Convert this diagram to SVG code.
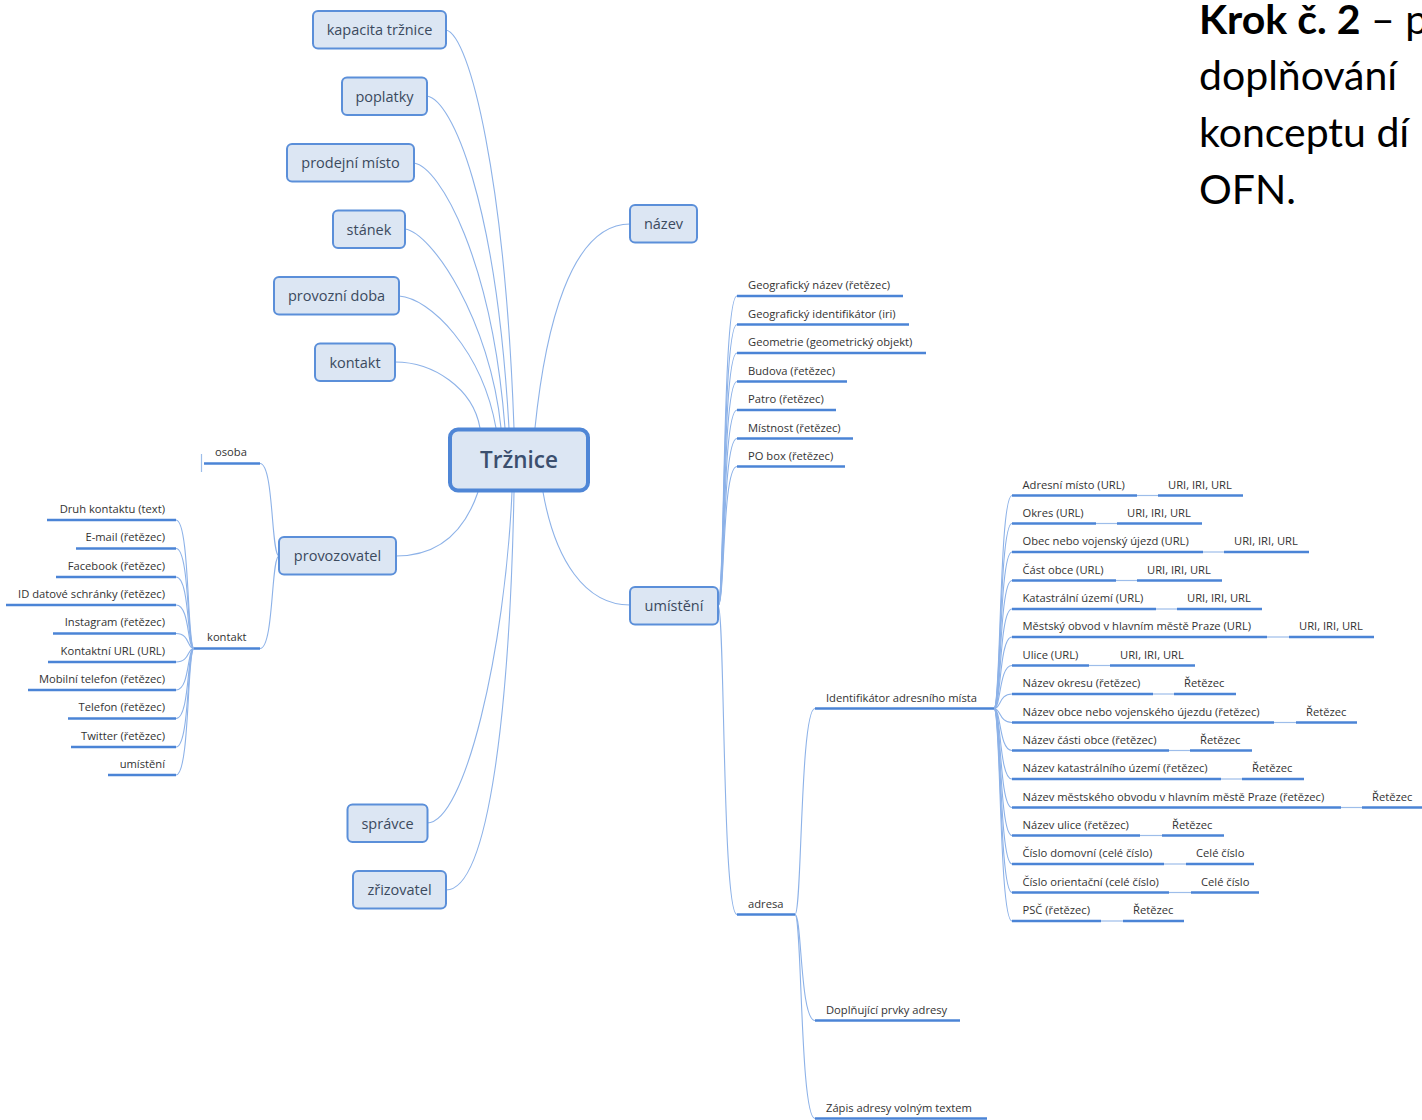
<svg xmlns="http://www.w3.org/2000/svg" width="1422" height="1120" viewBox="0 0 1422 1120">
<style>
.box{fill:#dce6f3;stroke:#5b8fd9;stroke-width:2}
.root{fill:#dce6f3;stroke:#4f86d6;stroke-width:4}
.nt{font-family:"Open Sans",sans-serif;font-size:14.5px;fill:#3b4a5e;text-anchor:middle}
.rt{font-family:"Open Sans",sans-serif;font-size:22.5px;font-weight:600;fill:#3b4f6e;text-anchor:middle}
.con{fill:none;stroke:#8db2e8;stroke-width:1.1}
.ul{stroke:#4b84d6;stroke-width:2.6}
.lk{stroke:#9dbdea;stroke-width:1.2}
.lt{font-family:"Open Sans",sans-serif;font-size:11.2px;fill:#333}
.le{font-family:"Open Sans",sans-serif;font-size:11.2px;fill:#333;text-anchor:end}
.title{font-family:Lato,"Open Sans",sans-serif;font-size:41px;fill:#000}
</style>

<g id="title">
<text class="title" x="1199" y="34"><tspan font-weight="bold">Krok č. 2</tspan> – p</text>
<text class="title" x="1199" y="90">doplňování</text>
<text class="title" x="1199" y="147">konceptu dí</text>
<text class="title" x="1199" y="204">OFN.</text>
</g>

<g id="connectors">
<path class="con" d="M446 30 C470 35,505 180,514 428"/>
<path class="con" d="M427 96 C452 100,496 200,509 428"/>
<path class="con" d="M414 163 C440 167,492 260,505 428"/>
<path class="con" d="M405 229 C432 233,490 320,501 428"/>
<path class="con" d="M399 296 C430 298,482 350,496 428"/>
<path class="con" d="M395 362 C433 362,473 388,480 428"/>
<path class="con" d="M535 428 C545 330,570 224,630 224"/>
<path class="con" d="M478 492 C465 530,440 556,396 556"/>
<path class="con" d="M543 492 C555 560,585 605,630 605"/>
<path class="con" d="M512 492 C505 650,465 823,427 823"/>
<path class="con" d="M514 492 C510 700,490 890,446 890"/>
<path class="con" d="M279 556 C271 556,274 463.5,260 463.5"/>
<path class="con" d="M279 556 C271 556,274 648.5,260 648.5"/>
<line class="lk" x1="201.5" y1="454" x2="201.5" y2="472"/>
<path class="con" d="M194 648.5 C187 648.5,190 520,176 520"/>
<path class="con" d="M194 648.5 C187 648.5,190 548.5,176 548.5"/>
<path class="con" d="M194 648.5 C187 648.5,190 577,176 577"/>
<path class="con" d="M194 648.5 C187 648.5,190 605,176 605"/>
<path class="con" d="M194 648.5 C187 648.5,190 633.5,176 633.5"/>
<path class="con" d="M194 648.5 C187 648.5,190 662,176 662"/>
<path class="con" d="M194 648.5 C187 648.5,190 690,176 690"/>
<path class="con" d="M194 648.5 C187 648.5,190 718.5,176 718.5"/>
<path class="con" d="M194 648.5 C187 648.5,190 747,176 747"/>
<path class="con" d="M194 648.5 C187 648.5,190 775,176 775"/>
<path class="con" d="M718 605.5 C725 605.5,722 296,737 296"/>
<path class="con" d="M718 605.5 C725 605.5,722 324.5,737 324.5"/>
<path class="con" d="M718 605.5 C725 605.5,722 353,737 353"/>
<path class="con" d="M718 605.5 C725 605.5,722 381.5,737 381.5"/>
<path class="con" d="M718 605.5 C725 605.5,722 410,737 410"/>
<path class="con" d="M718 605.5 C725 605.5,722 438.5,737 438.5"/>
<path class="con" d="M718 605.5 C725 605.5,722 466.5,737 466.5"/>
<path class="con" d="M718 605.5 C725 605.5,722 914.5,737 914.5"/>
<path class="con" d="M795 914.5 C802 914.5,800 708.5,815 708.5"/>
<path class="con" d="M795 914.5 C802 914.5,800 1020.5,815 1020.5"/>
<path class="con" d="M795 914.5 C802 914.5,800 1118.5,815 1118.5"/>
<path class="con" d="M994 708.5 C1001 708.5,999 495.5,1012 495.5"/>
<path class="con" d="M994 708.5 C1001 708.5,999 523.5,1012 523.5"/>
<path class="con" d="M994 708.5 C1001 708.5,999 552,1012 552"/>
<path class="con" d="M994 708.5 C1001 708.5,999 580.5,1012 580.5"/>
<path class="con" d="M994 708.5 C1001 708.5,999 609,1012 609"/>
<path class="con" d="M994 708.5 C1001 708.5,999 637,1012 637"/>
<path class="con" d="M994 708.5 C1001 708.5,999 665.5,1012 665.5"/>
<path class="con" d="M994 708.5 C1001 708.5,999 694,1012 694"/>
<path class="con" d="M994 708.5 C1001 708.5,999 722.5,1012 722.5"/>
<path class="con" d="M994 708.5 C1001 708.5,999 750.5,1012 750.5"/>
<path class="con" d="M994 708.5 C1001 708.5,999 779,1012 779"/>
<path class="con" d="M994 708.5 C1001 708.5,999 807.5,1012 807.5"/>
<path class="con" d="M994 708.5 C1001 708.5,999 835.5,1012 835.5"/>
<path class="con" d="M994 708.5 C1001 708.5,999 864,1012 864"/>
<path class="con" d="M994 708.5 C1001 708.5,999 892.5,1012 892.5"/>
<path class="con" d="M994 708.5 C1001 708.5,999 921,1012 921"/>
<line class="lk" x1="1137" y1="495.5" x2="1158" y2="495.5"/>
<line class="lk" x1="1096" y1="523.5" x2="1117" y2="523.5"/>
<line class="lk" x1="1203" y1="552" x2="1224" y2="552"/>
<line class="lk" x1="1116" y1="580.5" x2="1137" y2="580.5"/>
<line class="lk" x1="1156" y1="609" x2="1177" y2="609"/>
<line class="lk" x1="1267" y1="637" x2="1289" y2="637"/>
<line class="lk" x1="1089" y1="665.5" x2="1110" y2="665.5"/>
<line class="lk" x1="1153" y1="694" x2="1174" y2="694"/>
<line class="lk" x1="1274" y1="722.5" x2="1296" y2="722.5"/>
<line class="lk" x1="1169" y1="750.5" x2="1190" y2="750.5"/>
<line class="lk" x1="1221" y1="779" x2="1242" y2="779"/>
<line class="lk" x1="1341" y1="807.5" x2="1362" y2="807.5"/>
<line class="lk" x1="1140" y1="835.5" x2="1162" y2="835.5"/>
<line class="lk" x1="1164" y1="864" x2="1186" y2="864"/>
<line class="lk" x1="1169" y1="892.5" x2="1191" y2="892.5"/>
<line class="lk" x1="1101" y1="921" x2="1123" y2="921"/>
</g>

<g id="n-trznice"><rect class="root" x="450" y="429.5" width="138" height="61" rx="8"/><text class="rt" x="519" y="468">Tržnice</text></g>
<g id="n-kapacita"><rect class="box" x="313" y="11" width="133" height="37.5" rx="5"/><text class="nt" x="379.5" y="35">kapacita tržnice</text></g>
<g id="n-poplatky"><rect class="box" x="342" y="77.5" width="85" height="37.5" rx="5"/><text class="nt" x="384.5" y="101.5">poplatky</text></g>
<g id="n-prodejni"><rect class="box" x="287" y="144" width="127" height="37.5" rx="5"/><text class="nt" x="350.5" y="168">prodejní místo</text></g>
<g id="n-stanek"><rect class="box" x="333" y="210.5" width="72" height="37.5" rx="5"/><text class="nt" x="369" y="234.5">stánek</text></g>
<g id="n-doba"><rect class="box" x="274" y="277" width="125" height="37.5" rx="5"/><text class="nt" x="336.5" y="301">provozní doba</text></g>
<g id="n-kontakt"><rect class="box" x="315" y="343.5" width="80" height="37.5" rx="5"/><text class="nt" x="355" y="367.5">kontakt</text></g>
<g id="n-provozovatel"><rect class="box" x="279" y="537" width="117" height="37.5" rx="5"/><text class="nt" x="337.5" y="561">provozovatel</text></g>
<g id="n-spravce"><rect class="box" x="347.5" y="804.5" width="80" height="37.5" rx="5"/><text class="nt" x="387.5" y="828.5">správce</text></g>
<g id="n-zrizovatel"><rect class="box" x="353" y="871" width="93" height="37.5" rx="5"/><text class="nt" x="399.5" y="895">zřizovatel</text></g>
<g id="n-nazev"><rect class="box" x="630" y="205" width="67" height="37.5" rx="5"/><text class="nt" x="663.5" y="229">název</text></g>
<g id="n-umisteni"><rect class="box" x="630" y="587" width="88" height="37.5" rx="5"/><text class="nt" x="674" y="611">umístění</text></g>

<g id="n-osoba"><line class="ul" x1="204" y1="463.5" x2="260" y2="463.5"/><text class="lt" x="215" y="456">osoba</text></g>
<g id="n-kontakt2"><line class="ul" x1="194" y1="648.5" x2="260" y2="648.5"/><text class="lt" x="207" y="641">kontakt</text></g>
<g id="n-k1"><line class="ul" x1="47" y1="520" x2="176" y2="520"/><text class="le" x="165" y="512.5">Druh kontaktu (text)</text></g>
<g id="n-k2"><line class="ul" x1="76" y1="548.5" x2="176" y2="548.5"/><text class="le" x="165" y="541">E-mail (řetězec)</text></g>
<g id="n-k3"><line class="ul" x1="56" y1="577" x2="176" y2="577"/><text class="le" x="165" y="569.5">Facebook (řetězec)</text></g>
<g id="n-k4"><line class="ul" x1="6" y1="605" x2="176" y2="605"/><text class="le" x="165" y="597.5">ID datové schránky (řetězec)</text></g>
<g id="n-k5"><line class="ul" x1="53" y1="633.5" x2="176" y2="633.5"/><text class="le" x="165" y="626">Instagram (řetězec)</text></g>
<g id="n-k6"><line class="ul" x1="48" y1="662" x2="176" y2="662"/><text class="le" x="165" y="654.5">Kontaktní URL (URL)</text></g>
<g id="n-k7"><line class="ul" x1="28" y1="690" x2="176" y2="690"/><text class="le" x="165" y="682.5">Mobilní telefon (řetězec)</text></g>
<g id="n-k8"><line class="ul" x1="68" y1="718.5" x2="176" y2="718.5"/><text class="le" x="165" y="711">Telefon (řetězec)</text></g>
<g id="n-k9"><line class="ul" x1="71" y1="747" x2="176" y2="747"/><text class="le" x="165" y="739.5">Twitter (řetězec)</text></g>
<g id="n-k10"><line class="ul" x1="108" y1="775" x2="176" y2="775"/><text class="le" x="165" y="767.5">umístění</text></g>

<g id="n-u1"><line class="ul" x1="737" y1="296" x2="903" y2="296"/><text class="lt" x="748" y="289">Geografický název (řetězec)</text></g>
<g id="n-u2"><line class="ul" x1="737" y1="324.5" x2="909" y2="324.5"/><text class="lt" x="748" y="317.5">Geografický identifikátor (iri)</text></g>
<g id="n-u3"><line class="ul" x1="737" y1="353" x2="926" y2="353"/><text class="lt" x="748" y="346">Geometrie (geometrický objekt)</text></g>
<g id="n-u4"><line class="ul" x1="737" y1="381.5" x2="847" y2="381.5"/><text class="lt" x="748" y="374.5">Budova (řetězec)</text></g>
<g id="n-u5"><line class="ul" x1="737" y1="410" x2="836" y2="410"/><text class="lt" x="748" y="403">Patro (řetězec)</text></g>
<g id="n-u6"><line class="ul" x1="737" y1="438.5" x2="853" y2="438.5"/><text class="lt" x="748" y="431.5">Místnost (řetězec)</text></g>
<g id="n-u7"><line class="ul" x1="737" y1="466.5" x2="845" y2="466.5"/><text class="lt" x="748" y="459.5">PO box (řetězec)</text></g>
<g id="n-adresa"><line class="ul" x1="737" y1="914.5" x2="795" y2="914.5"/><text class="lt" x="748" y="907.5">adresa</text></g>

<g id="n-a1"><line class="ul" x1="815" y1="708.5" x2="994" y2="708.5"/><text class="lt" x="826" y="701.5">Identifikátor adresního místa</text></g>
<g id="n-a2"><line class="ul" x1="815" y1="1020.5" x2="960" y2="1020.5"/><text class="lt" x="826" y="1013.5">Doplňující prvky adresy</text></g>
<g id="n-a3"><line class="ul" x1="815" y1="1118.5" x2="987" y2="1118.5"/><text class="lt" x="826" y="1111.5">Zápis adresy volným textem</text></g>

<g id="n-i1"><line class="ul" x1="1012" y1="495.5" x2="1137" y2="495.5"/><text class="lt" x="1022.5" y="488.5">Adresní místo (URL)</text><line class="ul" x1="1158" y1="495.5" x2="1243" y2="495.5"/><text class="lt" x="1168" y="488.5">URI, IRI, URL</text></g>
<g id="n-i2"><line class="ul" x1="1012" y1="523.5" x2="1096" y2="523.5"/><text class="lt" x="1022.5" y="516.5">Okres (URL)</text><line class="ul" x1="1117" y1="523.5" x2="1202" y2="523.5"/><text class="lt" x="1127" y="516.5">URI, IRI, URL</text></g>
<g id="n-i3"><line class="ul" x1="1012" y1="552" x2="1203" y2="552"/><text class="lt" x="1022.5" y="545">Obec nebo vojenský újezd (URL)</text><line class="ul" x1="1224" y1="552" x2="1309" y2="552"/><text class="lt" x="1234" y="545">URI, IRI, URL</text></g>
<g id="n-i4"><line class="ul" x1="1012" y1="580.5" x2="1116" y2="580.5"/><text class="lt" x="1022.5" y="573.5">Část obce (URL)</text><line class="ul" x1="1137" y1="580.5" x2="1222" y2="580.5"/><text class="lt" x="1147" y="573.5">URI, IRI, URL</text></g>
<g id="n-i5"><line class="ul" x1="1012" y1="609" x2="1156" y2="609"/><text class="lt" x="1022.5" y="602">Katastrální území (URL)</text><line class="ul" x1="1177" y1="609" x2="1262" y2="609"/><text class="lt" x="1187" y="602">URI, IRI, URL</text></g>
<g id="n-i6"><line class="ul" x1="1012" y1="637" x2="1267" y2="637"/><text class="lt" x="1022.5" y="630">Městský obvod v hlavním městě Praze (URL)</text><line class="ul" x1="1289" y1="637" x2="1374" y2="637"/><text class="lt" x="1299" y="630">URI, IRI, URL</text></g>
<g id="n-i7"><line class="ul" x1="1012" y1="665.5" x2="1089" y2="665.5"/><text class="lt" x="1022.5" y="658.5">Ulice (URL)</text><line class="ul" x1="1110" y1="665.5" x2="1195" y2="665.5"/><text class="lt" x="1120" y="658.5">URI, IRI, URL</text></g>
<g id="n-i8"><line class="ul" x1="1012" y1="694" x2="1153" y2="694"/><text class="lt" x="1022.5" y="687">Název okresu (řetězec)</text><line class="ul" x1="1174" y1="694" x2="1236" y2="694"/><text class="lt" x="1184" y="687">Řetězec</text></g>
<g id="n-i9"><line class="ul" x1="1012" y1="722.5" x2="1274" y2="722.5"/><text class="lt" x="1022.5" y="715.5">Název obce nebo vojenského újezdu (řetězec)</text><line class="ul" x1="1296" y1="722.5" x2="1357" y2="722.5"/><text class="lt" x="1306" y="715.5">Řetězec</text></g>
<g id="n-i10"><line class="ul" x1="1012" y1="750.5" x2="1169" y2="750.5"/><text class="lt" x="1022.5" y="743.5">Název části obce (řetězec)</text><line class="ul" x1="1190" y1="750.5" x2="1252" y2="750.5"/><text class="lt" x="1200" y="743.5">Řetězec</text></g>
<g id="n-i11"><line class="ul" x1="1012" y1="779" x2="1221" y2="779"/><text class="lt" x="1022.5" y="772">Název katastrálního území (řetězec)</text><line class="ul" x1="1242" y1="779" x2="1304" y2="779"/><text class="lt" x="1252" y="772">Řetězec</text></g>
<g id="n-i12"><line class="ul" x1="1012" y1="807.5" x2="1341" y2="807.5"/><text class="lt" x="1022.5" y="800.5">Název městského obvodu v hlavním městě Praze (řetězec)</text><line class="ul" x1="1362" y1="807.5" x2="1424" y2="807.5"/><text class="lt" x="1372" y="800.5">Řetězec</text></g>
<g id="n-i13"><line class="ul" x1="1012" y1="835.5" x2="1140" y2="835.5"/><text class="lt" x="1022.5" y="828.5">Název ulice (řetězec)</text><line class="ul" x1="1162" y1="835.5" x2="1224" y2="835.5"/><text class="lt" x="1172" y="828.5">Řetězec</text></g>
<g id="n-i14"><line class="ul" x1="1012" y1="864" x2="1164" y2="864"/><text class="lt" x="1022.5" y="857">Číslo domovní (celé číslo)</text><line class="ul" x1="1186" y1="864" x2="1254" y2="864"/><text class="lt" x="1196" y="857">Celé číslo</text></g>
<g id="n-i15"><line class="ul" x1="1012" y1="892.5" x2="1169" y2="892.5"/><text class="lt" x="1022.5" y="885.5">Číslo orientační (celé číslo)</text><line class="ul" x1="1191" y1="892.5" x2="1259" y2="892.5"/><text class="lt" x="1201" y="885.5">Celé číslo</text></g>
<g id="n-i16"><line class="ul" x1="1012" y1="921" x2="1101" y2="921"/><text class="lt" x="1022.5" y="914">PSČ (řetězec)</text><line class="ul" x1="1123" y1="921" x2="1184" y2="921"/><text class="lt" x="1133" y="914">Řetězec</text></g>
</svg>
